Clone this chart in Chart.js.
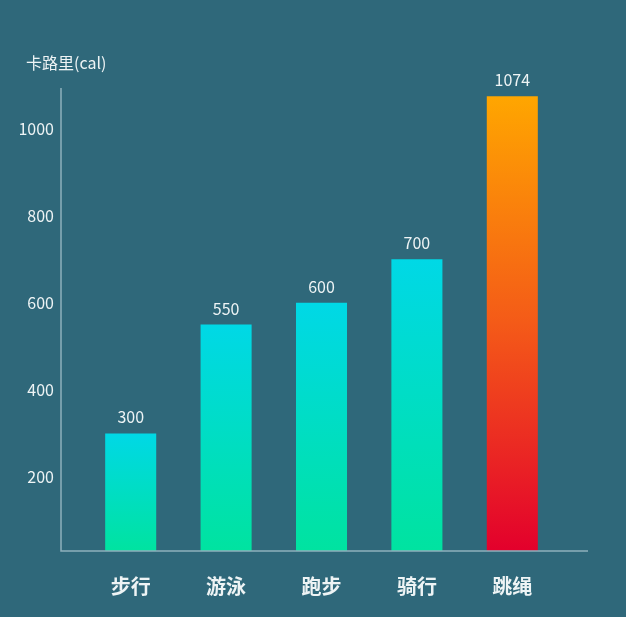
<!DOCTYPE html>
<html>
<head>
<meta charset="utf-8">
<script src="https://cdn.jsdelivr.net/npm/chart.js@4"></script>
<style>
  html, body { margin: 0; padding: 0; background: #2f687a; }
  #wrap { width: 626px; height: 617px; }
</style>
</head>
<body>
<div id="wrap"><canvas id="chart" width="626" height="617"></canvas></div>
<script>
const categories = ["步行", "游泳", "跑步", "骑行", "跳绳"];
const calories = [300, 550, 600, 700, 1074];
const yTicks = [200, 400, 600, 800, 1000];
const yTitle = "卡路里(cal)";

const FONT = "'Noto Sans CJK SC', 'Noto Sans', sans-serif";
const AXIS_COLOR = "#8fb0bc";
const TEXT_COLOR = "#eef4f5";

// gradient per bar, from its top down to the base
function barColor(ctx) {
  const chart = ctx.chart;
  const area = chart.chartArea;
  if (!area || ctx.raw == null) return "#00dccb";
  const y = chart.scales.y;
  const top = y.getPixelForValue(ctx.raw);
  const g = chart.ctx.createLinearGradient(0, top, 0, area.bottom);
  if (ctx.dataIndex === calories.length - 1) {
    g.addColorStop(0, "#ffa600");
    g.addColorStop(0.5, "#f45a18");
    g.addColorStop(1, "#e3002c");
  } else {
    g.addColorStop(0, "#00d8e6");
    g.addColorStop(1, "#00e3a0");
  }
  return g;
}

const extras = {
  id: "extras",
  afterDatasetsDraw(chart) {
    const c = chart.ctx;
    const area = chart.chartArea;
    const meta = chart.getDatasetMeta(0);
    c.save();
    // axis lines
    c.strokeStyle = AXIS_COLOR;
    c.lineWidth = 1.5;
    c.beginPath();
    c.moveTo(61, area.top + 3);
    c.lineTo(61, area.bottom);
    c.lineTo(588, area.bottom);
    c.stroke();
    // value labels
    c.fillStyle = TEXT_COLOR;
    c.font = "16px " + FONT;
    c.textAlign = "center";
    c.textBaseline = "middle";
    meta.data.forEach((bar, i) => {
      c.fillText(String(calories[i]), bar.x, bar.y - 16);
    });
    // axis title
    c.textAlign = "left";
    c.fillText(yTitle, 26, 63);
    c.restore();
  }
};

new Chart(document.getElementById("chart"), {
  type: "bar",
  data: {
    labels: categories,
    datasets: [{
      data: calories,
      backgroundColor: barColor,
      borderWidth: 0,
      categoryPercentage: 1,
      barPercentage: 0.535
    }]
  },
  options: {
    responsive: false,
    animation: false,
    layout: { padding: { top: 85, right: 66, bottom: 18, left: 20 } },
    plugins: { legend: { display: false }, tooltip: { enabled: false } },
    scales: {
      x: {
        afterFit(scale) { scale.height = 48; },
        grid: { display: false, drawTicks: false },
        border: { display: false },
        ticks: {
          color: TEXT_COLOR,
          padding: 23,
          font: { family: FONT, size: 20, weight: "bold" }
        }
      },
      y: {
        min: 30,
        max: 1100,
        afterFit(scale) { scale.width = 63; },
        afterBuildTicks(scale) { scale.ticks = yTicks.map(v => ({ value: v })); },
        grid: { display: false, drawTicks: false },
        border: { display: false },
        ticks: {
          color: TEXT_COLOR,
          padding: 29,
          callback: v => String(v),
          font: { family: FONT, size: 16 }
        }
      }
    }
  },
  plugins: [extras]
});
</script>
</body>
</html>
